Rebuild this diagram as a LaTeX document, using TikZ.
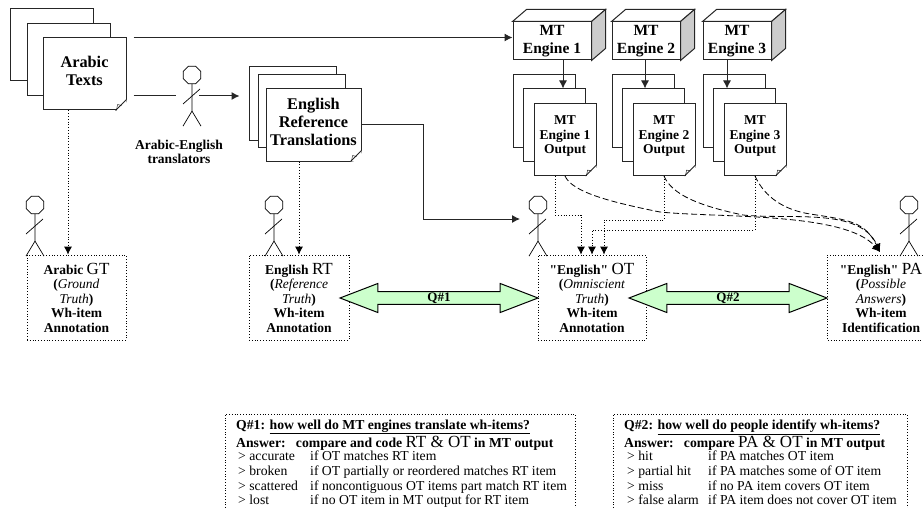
\documentclass[tikz,border=0pt]{standalone}
\usepackage{fontspec}
\setmainfont{Liberation Serif}
\usetikzlibrary{shapes.geometric,shapes.arrows,arrows.meta}

\font\straightfont="Liberation Serif/B" at 13.5pt
\newcommand{\straightq}{{\straightfont\char34}}
\newcommand{\stickman}[3]{
    \node [head] (#1) at (#2,#3) {};
    \draw [limb] (#1.south) -- ++(0,27) coordinate (#1hip) -- ++(-9,15);
    \draw [limb] (#1hip) -- ++(9,15);
    \draw [limb] ([shift={(-9pt,-29pt)}]#1.center) -- ([shift={(8pt,-14pt)}]#1.center);
}
\newcommand{\dogear}[1]{
    \fill [white] ([xshift=-11pt]#1.south east) -- ([yshift=11pt]#1.south east) -- ([shift={(1pt,-1pt)}]#1.south east) -- cycle;
    \draw [edge] ([xshift=-11pt]#1.south east) -- ([yshift=11pt]#1.south east);
    \draw [thin] ([xshift=-10pt]#1.south east) -- ([shift={(-9pt,6pt)}]#1.south east) -- ([shift={(-5pt,5pt)}]#1.south east);
}
\newcommand{\mtblock}[1]{
    \draw [edge, fill=white] (#1.north west) -- ++(14,-12) -| ([shift={(14pt,12pt)}]#1.north east) -- (#1.north east) -- cycle;
    \draw [edge, fill=black!20] (#1.north east) -- ++(14,-12) -- ([shift={(14pt,12pt)}]#1.south east) -- (#1.south east) -- cycle;
}

\begin{document}
\begin{tikzpicture}[x=1pt, y=-1pt, >={Latex[length=8pt,width=8pt]}]
        \tikzstyle{every node}=[inner sep=0pt, align=center]
        \tikzstyle{edge}=[line width=1pt, black!85]
        \tikzstyle{limb}=[line width=.7pt]
        \tikzstyle{head}=[regular polygon, regular polygon sides=8, draw, line width=.7pt, minimum size=19pt]
        \tikzstyle{page}=[draw=black!85, line width=1pt, fill=white]
        \tikzstyle{outpage}=[page, minimum width=62pt, minimum height=72pt]
        \tikzstyle{block}=[page, font=\fontsize{15.5}{18.5}\bfseries\selectfont]
        \tikzstyle{bigtext}=[font=\fontsize{16.3}{18}\bfseries\selectfont]
        \tikzstyle{smalltext}=[font=\fontsize{13.5}{14.5}\bfseries\selectfont]
        \tikzstyle{dotbox}=[smalltext, draw, dotted, line width=.8pt, minimum height=85pt]
        \tikzstyle{flow}=[edge, ->]
        \tikzstyle{dotflow}=[line width=.8pt, dotted, ->]
        \tikzstyle{dashflow}=[line width=.8pt, dash pattern=on 6pt off 3pt, ->]
        \tikzstyle{twoway}=[double arrow, draw, line width=1pt, fill=green!20, double arrow head extend=7.5pt, double arrow tip angle=42, minimum width=29pt, font=\fontsize{13}{14}\bfseries\selectfont]
        \tikzstyle{paneledge}=[line width=.8pt, dotted]
        \tikzstyle{paneltitle}=[anchor=west, font=\fontsize{13.7}{15}\bfseries\selectfont]
        \tikzstyle{panelitems}=[anchor=west, align=left, font=\fontsize{13.7}{14.7}\selectfont]
        \newcommand{\bigletters}[1]{{\fontsize{17}{15}\mdseries\selectfont #1}}

        \useasboundingbox (0,0) rectangle (923,508);

        \node [page, minimum width=83pt, minimum height=72pt] (arabicback) at (51.5,45) {};
        \node [page, minimum width=83pt, minimum height=72pt] (arabicmid) at (68.5,60) {};
        \node [page, minimum width=83pt, minimum height=72pt] (arabicfront) at (84.5,74) {};
        \dogear{arabicfront}
        \node [bigtext] (arabictext) at ([yshift=3pt]arabicfront) {Arabic\\Texts};

        \node [page, minimum width=87pt, minimum height=73pt] (refback) at (292.5,103.5) {};
        \node [page, minimum width=87pt, minimum height=72pt] (refmid) at (301.5,111) {};
        \node [page, minimum width=95pt, minimum height=72pt] (reffront) at (313.5,125) {};
        \dogear{reffront}
        \node [bigtext] (reftext) at ([yshift=3pt]reffront) {English\\Reference\\Translations};

        \node [block, minimum width=78pt, minimum height=38pt] (engine1) at (552,41) {MT\\Engine 1};
        \node [block, minimum width=68pt, minimum height=38pt] (engine2) at (646,41) {MT\\Engine 2};
        \node [block, minimum width=68pt, minimum height=38pt] (engine3) at (737,41) {MT\\Engine 3};
        \mtblock{engine1}
        \mtblock{engine2}
        \mtblock{engine3}

        \node [outpage] (output1back) at (544.5,111) {};
        \node [outpage] (output1mid) at (554.5,125) {};
        \node [outpage] (output1) at (565,139.5) {};
        \dogear{output1}
        \node [smalltext] (output1text) at ([yshift=3pt]output1) {MT\\Engine 1\\Output};
        \node [outpage] (output2back) at (643.5,111) {};
        \node [outpage] (output2mid) at (653.5,125) {};
        \node [outpage] (output2) at (664,139.5) {};
        \dogear{output2}
        \node [smalltext] (output2text) at ([yshift=3pt]output2) {MT\\Engine 2\\Output};
        \node [outpage] (output3back) at (734,111) {};
        \node [outpage] (output3mid) at (744.5,125) {};
        \node [outpage] (output3) at (755,139.5) {};
        \dogear{output3}
        \node [smalltext] (output3text) at ([yshift=3pt]output3) {MT\\Engine 3\\Output};

        \stickman{translator}{192}{75}
        \node [smalltext] (translatorlabel) at (179,152) {Arabic-English\\translators};
        \stickman{gtreader}{35}{205}
        \stickman{rtreader}{274}{205}
        \stickman{otreader}{538}{205}
        \stickman{pareader}{909}{205}

        \node [dotbox, minimum width=99pt] (gtbox) at (76.5,297.5) {Arabic \bigletters{GT}\\(\textit{\mdseries Ground}\\\textit{\mdseries Truth})\\Wh-item\\Annotation};
        \node [dotbox, minimum width=100pt] (rtbox) at (299,297.5) {English \bigletters{RT}\\(\textit{\mdseries Reference}\\\textit{\mdseries Truth})\\Wh-item\\Annotation};
        \node [dotbox, minimum width=108pt] (otbox) at (592,297.5) {\straightq English\straightq{} \bigletters{OT}\\(\textit{\mdseries Omniscient}\\\textit{\mdseries Truth})\\Wh-item\\Annotation};
        \node [smalltext] (patext) at (881,297.5) {\straightq English\straightq{} \bigletters{PA}\\(\textit{\mdseries Possible}\\\textit{\mdseries Answers})\\Wh-item\\Identification};
        \draw [paneledge] (923,255) -- (827,255) -- (827,340) -- (923,340);

        \node [twoway, minimum height=198pt] (q1arrow) at (439,298) {Q\#1};
        \node [twoway, minimum height=198pt] (q2arrow) at (728,298) {Q\#2};

        \coordinate (translatorin) at (176,96);
        \coordinate (translatorout) at (199,96);
        \coordinate (ottip) at (520,219);
        \coordinate (patip) at (880,252);

        \draw [flow, shorten <=7pt] (arabicfront.north east) -- (engine1.west |- arabicfront.north east);
        \draw [edge, shorten <=7pt] (arabicfront.east |- translatorin) -- (translatorin);
        \draw [flow, shorten >=9pt] (translatorout) -- (refback.west |- translatorout);
        \draw [flow] (reffront.east) -- ++(62,0) |- (ottip);
        \draw [flow] ([xshift=11pt]engine1.south) -- ([xshift=11pt]engine1.south |- output1mid.north);
        \draw [flow] ([xshift=-1pt]engine2.south) -- ([xshift=-1pt]engine2.south |- output2mid.north);
        \draw [flow] ([xshift=-10pt]engine3.south) -- ([xshift=-10pt]engine3.south |- output3mid.north);

        \draw [dotflow] ([xshift=-16.5pt]arabicfront.south) -- ([xshift=-8.5pt]gtbox.north);
        \draw [dotflow] ([xshift=-14.5pt]reffront.south) -- (rtbox.north);
        \draw [dotflow] ([xshift=-10pt]output1.south) -- ++(0,39) -| ([xshift=-11pt]otbox.north);
        \draw [dotflow] (output2.south) -- ++(0,44) -| ([xshift=12pt]otbox.north);
        \draw [dotflow] (output3.south) -- ++(0,54) -| (otbox.north);

        \draw [dashflow] (output1.south) .. controls (572,192) and (610,202) .. (660,212) .. controls (720,218) and (845,212) .. (patip);
        \draw [dashflow] (output2.south) .. controls (672,195) and (700,206) .. (743,215) .. controls (790,220) and (860,207) .. (patip);
        \draw [dashflow] (output3.south) .. controls (765,198) and (785,210) .. (810,214) .. controls (850,220) and (865,222) .. (patip);

        \draw [paneledge] (225,508) -- (225,414) -- (575,414) -- (575,508);
        \node [paneltitle] (q1title) at (236,427) {Q\#1: \underline{how well do MT engines translate wh-items?}};
        \node [paneltitle] (q1answer) at (236,443) {Answer:\ \ \ compare and code \bigletters{RT \& OT} in MT output};
        \node [panelitems] (q1items) at (238,480) {\begin{tabular}{@{}p{72pt}@{}l@{}}
            > accurate & if OT matches RT item\\
            > broken & if OT partially or reordered matches RT item\\
            > scattered & if noncontiguous OT items part match RT item\\
            > lost & if no OT item in MT output for RT item
        \end{tabular}};

        \draw [paneledge] (613,508) -- (613,414) -- (907,414) -- (907,508);
        \node [paneltitle] (q2title) at (624,427) {Q\#2: \underline{how well do people identify wh-items?}};
        \node [paneltitle] (q2answer) at (624,443) {Answer:\ \ \ compare \bigletters{PA \& OT} in MT output};
        \node [panelitems] (q2items) at (627,480) {\begin{tabular}{@{}p{81pt}@{}l@{}}
            > hit & if PA matches OT item\\
            > partial hit & if PA matches some of OT item\\
            > miss & if no PA item covers OT item\\
            > false alarm & if PA item does not cover OT item
        \end{tabular}};
    \end{tikzpicture}
\end{document}
